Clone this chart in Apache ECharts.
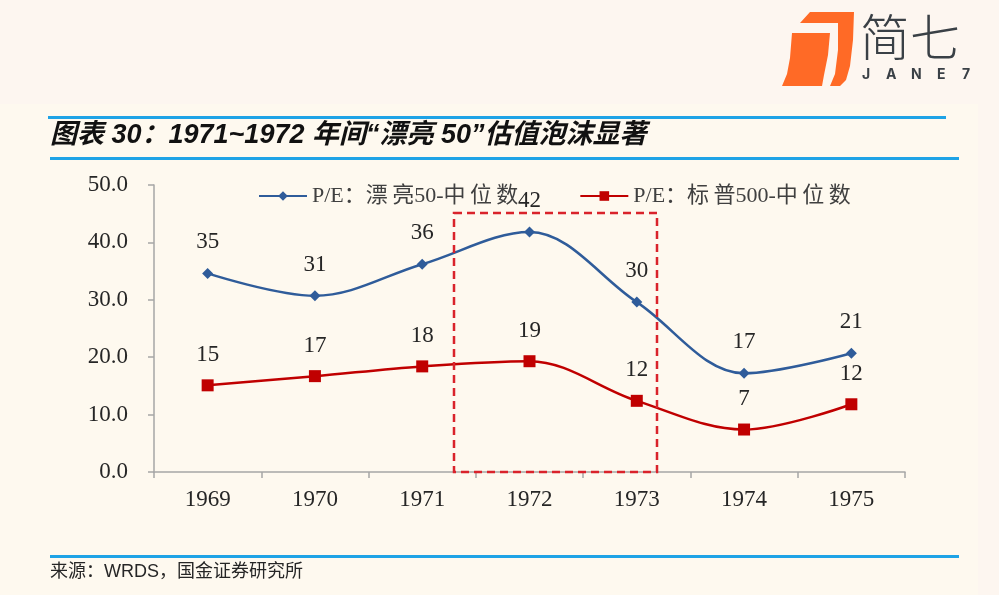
<!DOCTYPE html>
<html>
<head>
<meta charset="utf-8">
<script src="https://cdn.jsdelivr.net/npm/echarts@6/dist/echarts.min.js"></script>
<style>
  html, body { margin: 0; padding: 0; background: #fdf6f0; }
  #paper { position: absolute; left: 0; top: 104px; width: 978px; height: 491px; background: #fef9ef; }
  #chart { position: absolute; left: 0; top: 0; width: 999px; height: 595px; }
</style>
</head>
<body>
<div id="paper"></div>
<div id="chart"></div>
<script>
// datos del grafico
var years = ["1969", "1970", "1971", "1972", "1973", "1974", "1975"];
var peNifty = [34.6, 30.7, 36.2, 41.8, 29.6, 17.2, 20.7];
var peSP = [15.1, 16.7, 18.4, 19.3, 12.4, 7.4, 11.8];
var labelsNifty = ["35", "31", "36", "42", "30", "17", "21"];
var labelsSP = ["15", "17", "18", "19", "12", "7", "12"];
var seriesNames = ["P/E：漂\u2009亮50-中\u2009位\u2009数", "P/E：标\u2009普500-中\u2009位\u2009数"];

var serif = "'Liberation Serif', 'Times New Roman', 'Noto Sans CJK SC', serif";
var blue = "#2f5c9a";
var red = "#c00000";
var lineBlue = "#1ea3e6";

var myChart = echarts.init(document.getElementById("chart"));

var option = {
  backgroundColor: "transparent",
  animation: false,
  grid: { left: 154, right: 94, top: 185, bottom: 123 },
  legend: {
    left: 253,
    top: 180,
    itemWidth: 48,
    itemHeight: 12,
    itemGap: 61,
    textStyle: { fontFamily: serif, fontSize: 22, color: "#404040" },
    data: seriesNames
  },
  xAxis: {
    type: "category",
    data: years,
    boundaryGap: true,
    axisLine: { lineStyle: { color: "#a6a6a6", width: 1.5 } },
    axisTick: { show: true, length: 6, lineStyle: { color: "#a6a6a6", width: 1.5 } },
    axisLabel: { fontFamily: serif, fontSize: 23, color: "#262626", margin: 16 }
  },
  yAxis: {
    type: "value",
    min: 0,
    max: 50,
    interval: 10,
    splitLine: { show: false },
    axisLine: { show: true, lineStyle: { color: "#a6a6a6", width: 1.5 } },
    axisTick: { show: true, length: 6, lineStyle: { color: "#a6a6a6", width: 1.5 } },
    axisLabel: {
      fontFamily: serif,
      fontSize: 23,
      color: "#262626",
      margin: 26,
      formatter: function (v) { return v.toFixed(1); }
    }
  },
  series: [
    {
      name: seriesNames[0],
      type: "line",
      data: peNifty,
      smooth: 0.35,
      symbol: "diamond",
      symbolSize: 11,
      itemStyle: { color: blue },
      lineStyle: { color: blue, width: 2.5 },
      label: {
        show: true,
        position: "top",
        distance: 14,
        fontFamily: serif,
        fontSize: 23,
        color: "#262626",
        formatter: function (p) { return labelsNifty[p.dataIndex]; }
      }
    },
    {
      name: seriesNames[1],
      type: "line",
      data: peSP,
      smooth: 0.35,
      symbol: "rect",
      symbolSize: 12,
      itemStyle: { color: red },
      lineStyle: { color: red, width: 2.5 },
      label: {
        show: true,
        position: "top",
        distance: 13,
        fontFamily: serif,
        fontSize: 23,
        color: "#262626",
        formatter: function (p) { return labelsSP[p.dataIndex]; }
      }
    }
  ],
  graphic: [
    // lineas del titulo y la fuente
    { type: "rect", shape: { x: 48, y: 116, width: 898, height: 3 }, style: { fill: lineBlue } },
    { type: "rect", shape: { x: 50, y: 157, width: 909, height: 3 }, style: { fill: lineBlue } },
    { type: "rect", shape: { x: 50, y: 555, width: 909, height: 3 }, style: { fill: lineBlue } },
    {
      type: "text",
      left: 50,
      top: 122,
      style: {
        text: "图表 30：1971~1972 年间“漂亮 50”估值泡沫显著",
        font: "italic bold 27px 'Liberation Sans', 'Noto Sans CJK SC', sans-serif",
        fill: "#111"
      }
    },
    {
      type: "text",
      left: 50,
      top: 563,
      style: {
        text: "来源：WRDS，国金证券研究所",
        font: "18px 'Liberation Sans', 'Noto Sans CJK SC', sans-serif",
        fill: "#262626"
      }
    },
    // recuadro punteado 1971~1972
    {
      type: "rect",
      z: 10,
      shape: { x: 454, y: 213, width: 203, height: 259 },
      style: { fill: null, stroke: "#d9232b", lineWidth: 2.5, lineDash: [8, 5] }
    },
    // logo
    {
      type: "polygon",
      shape: { points: [[792, 33], [830, 33], [828, 55], [824, 75], [822, 86], [782, 86], [787, 74], [790, 58]] },
      style: { fill: "#ff6a26" }
    },
    {
      type: "polygon",
      shape: { points: [[810, 12], [854, 12], [853, 40], [850, 66], [846, 80], [840, 86], [830, 86], [835, 74], [838, 50], [838, 23], [800, 23]] },
      style: { fill: "#ff6a26" }
    },
    {
      type: "text",
      left: 860,
      top: 12,
      style: { text: "简七", font: "300 50px 'Noto Sans CJK SC', sans-serif", fill: "#3a4046" }
    },
    { type: "text", left: 862, top: 68, style: { text: "J", font: "bold 14px Inter, sans-serif", fill: "#3a4046" } },
    { type: "text", left: 886, top: 68, style: { text: "A", font: "bold 14px Inter, sans-serif", fill: "#3a4046" } },
    { type: "text", left: 911, top: 68, style: { text: "N", font: "bold 14px Inter, sans-serif", fill: "#3a4046" } },
    { type: "text", left: 937, top: 68, style: { text: "E", font: "bold 14px Inter, sans-serif", fill: "#3a4046" } },
    { type: "text", left: 962, top: 68, style: { text: "7", font: "bold 14px Inter, sans-serif", fill: "#3a4046" } }
  ]
};

myChart.setOption(option);
</script>
</body>
</html>
